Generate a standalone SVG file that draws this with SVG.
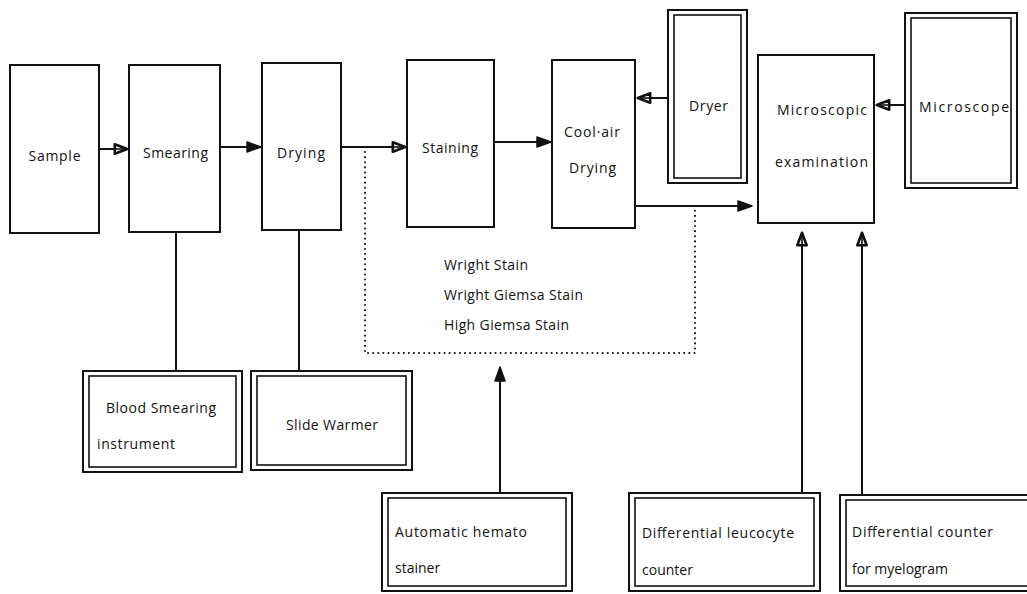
<svg xmlns="http://www.w3.org/2000/svg" width="1027" height="594" viewBox="0 0 1027 594">
  <style>
    .box { fill: #fff; stroke: #111; stroke-width: 2; }
    .inner { fill: none; stroke: #111; stroke-width: 1.6; }
    .lbl { font-family: "Open Sans", "Noto Sans", sans-serif; font-size: 14px; fill: #111; }
    .mid { text-anchor: middle; }
    .wire { fill: none; stroke: #111; stroke-width: 2; }
    .dots { fill: none; stroke: #111; stroke-width: 2; stroke-dasharray: 0.1 5; stroke-linecap: round; }
  </style>
  <defs>
    <marker id="solid" viewBox="0 0 16 13" refX="15" refY="6.5" markerWidth="16" markerHeight="13" markerUnits="userSpaceOnUse" orient="auto">
      <path d="M1,1.5 L15,6.5 L1,11.5 Z" fill="#111" stroke="#111" stroke-width="1.5" stroke-linejoin="round"/>
    </marker>
    <marker id="open" viewBox="0 0 16 13" refX="15" refY="6.5" markerWidth="16" markerHeight="13" markerUnits="userSpaceOnUse" orient="auto">
      <path d="M1.8,1.8 L14.2,6.5 L1.8,11.2 Z" fill="#fff" stroke="#111" stroke-width="2.6" stroke-linejoin="round"/>
      <path d="M1.5,6.5 L14,6.5" stroke="#111" stroke-width="1.6"/>
    </marker>
  </defs>

  <rect width="1027" height="594" fill="#fff"/>

  <!-- connectors -->
  <g id="connectors">
    <path class="wire" d="M99,149 H128" marker-end="url(#open)"/>
    <path class="wire" d="M220,147 H261" marker-end="url(#solid)"/>
    <path class="wire" d="M341,147 H406" marker-end="url(#open)"/>
    <path class="wire" d="M494,142 H551" marker-end="url(#solid)"/>
    <path class="wire" d="M668,98 H637" marker-end="url(#open)"/>
    <path class="wire" d="M635,206 H752" marker-end="url(#solid)"/>
    <path class="wire" d="M905,105 H876" marker-end="url(#open)"/>
    <path class="wire" d="M176,232 V371"/>
    <path class="wire" d="M299,230 V371"/>
    <path class="wire" d="M500,493 V367" marker-end="url(#solid)"/>
    <path class="wire" d="M802,493 V232" marker-end="url(#open)"/>
    <path class="wire" d="M862,495 V232" marker-end="url(#open)"/>
    <path class="dots" d="M365,152 V353 H695 V207"/>
  </g>

  <!-- process steps -->
  <g id="sample">
    <rect class="box" x="10" y="65" width="89" height="168"/>
    <text class="lbl mid" x="54.5" y="161" textLength="52">Sample</text>
  </g>
  <g id="smearing">
    <rect class="box" x="129" y="65" width="91" height="167"/>
    <text class="lbl mid" x="175.5" y="158" textLength="65">Smearing</text>
  </g>
  <g id="drying">
    <rect class="box" x="262" y="63" width="79" height="167"/>
    <text class="lbl mid" x="301" y="158" textLength="48">Drying</text>
  </g>
  <g id="staining">
    <rect class="box" x="407" y="60" width="87" height="167"/>
    <text class="lbl mid" x="450" y="153" textLength="56">Staining</text>
  </g>
  <g id="cool-air-drying">
    <rect class="box" x="552" y="60" width="83" height="168"/>
    <text class="lbl mid" x="592" y="137" textLength="56">Cool·air</text>
    <text class="lbl mid" x="592.5" y="173" textLength="47">Drying</text>
  </g>
  <g id="microscopic-examination">
    <rect class="box" x="758" y="55" width="116" height="168"/>
    <text class="lbl mid" x="822" y="115" textLength="90">Microscopic</text>
    <text class="lbl mid" x="821.5" y="167" textLength="93">examination</text>
  </g>

  <!-- stain list -->
  <g id="stains">
    <text class="lbl" x="444" y="270" textLength="84">Wright Stain</text>
    <text class="lbl" x="444" y="300" textLength="139">Wright Giemsa Stain</text>
    <text class="lbl" x="444" y="330" textLength="125">High Giemsa Stain</text>
  </g>

  <!-- equipment -->
  <g id="dryer">
    <rect class="box" x="668" y="10" width="79" height="173"/>
    <rect class="inner" x="674" y="15" width="67" height="163"/>
    <text class="lbl mid" x="708.5" y="111" textLength="39">Dryer</text>
  </g>
  <g id="microscope">
    <rect class="box" x="905" y="13" width="112" height="175"/>
    <rect class="inner" x="911" y="18" width="100" height="165"/>
    <text class="lbl mid" x="964" y="112" textLength="90">Microscope</text>
  </g>
  <g id="blood-smearing-instrument">
    <rect class="box" x="83" y="371" width="159" height="101"/>
    <rect class="inner" x="89" y="376" width="147" height="91"/>
    <text class="lbl" x="106" y="413" textLength="110">Blood Smearing</text>
    <text class="lbl" x="97" y="449" textLength="78">instrument</text>
  </g>
  <g id="slide-warmer">
    <rect class="box" x="251" y="371" width="161" height="99"/>
    <rect class="inner" x="257" y="376" width="149" height="89"/>
    <text class="lbl" x="286" y="430" textLength="92">Slide Warmer</text>
  </g>
  <g id="automatic-hemato-stainer">
    <rect class="box" x="382" y="493" width="190" height="98"/>
    <rect class="inner" x="388" y="498" width="178" height="88"/>
    <text class="lbl" x="395" y="537" textLength="132">Automatic hemato</text>
    <text class="lbl" x="395" y="573">stainer</text>
  </g>
  <g id="differential-leucocyte-counter">
    <rect class="box" x="629" y="493" width="191" height="98"/>
    <rect class="inner" x="635" y="498" width="179" height="88"/>
    <text class="lbl" x="642" y="538" textLength="152">Differential leucocyte</text>
    <text class="lbl" x="642" y="575">counter</text>
  </g>
  <g id="differential-counter-myelogram">
    <rect class="box" x="840" y="495" width="192" height="96"/>
    <rect class="inner" x="846" y="500" width="190" height="86"/>
    <text class="lbl" x="852" y="537" textLength="141">Differential counter</text>
    <text class="lbl" x="852" y="574" textLength="96">for myelogram</text>
  </g>
</svg>
